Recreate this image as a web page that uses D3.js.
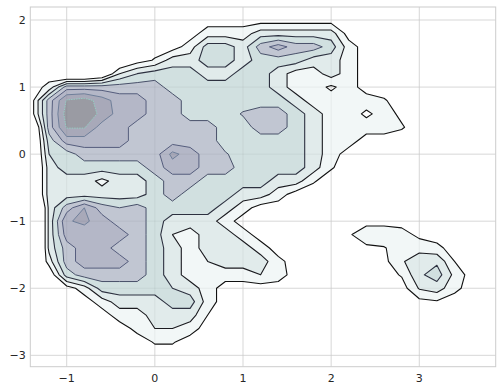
<!DOCTYPE html>
<html>
<head>
<meta charset="utf-8">
<script src="https://cdn.jsdelivr.net/npm/d3@7"></script>
<style>
  body { margin: 0; background: #fff; }
  text { font-family: "DejaVu Sans", sans-serif; }
</style>
</head>
<body>
<div id="chart"></div>
<script>
const xTicks = [-1, 0, 1, 2, 3];
const yTicks = [-3, -2, -1, 0, 1, 2];

// density grid: columns x = -1.4 .. 3.8, rows y = 2.2 .. -3.2, step 0.2
const gridX0 = -1.4;
const gridY0 = 2.2;
const gridStep = 0.2;
const density = [
  [0,0,0,0,0,0,0,0,0,0,0,0,0,0,0,0,0,0,0,0,0,0,0,0,0,0,0],
  [0,0,0,0,0,0,0,0,0,0,0,0,0,0,0,0,0,0,0,0,0,0,0,0,0,0,0],
  [0,0,0,0,0,0,0,0,0,0,1,1,1,2,2,2,2,2,0,0,0,0,0,0,0,0,0],
  [0,0,0,0,0,0,0,0,0,1,3,3,2,4,5,4,4,3,1,0,0,0,0,0,0,0,0],
  [0,0,0,0,0,-1,0,0.6,2,2,3,3,2,3,3,3,2,2,1,0,0,0,0,0,0,0,0],
  [0,0,-2,-2,-1,1.5,2.5,3,3,3,2,2,3,3,2,1,1,2,1,0,0,0,0,0,0,0,0],
  [0,0.8,4,4,4,4,4,4,3,3,3,3,3,3,2,1,1,0.3,1,0,0,0,0,0,0,0,0],
  [0,4,6.6,7,6,5,5,4,4,3,3,3,3,3,3,2,1,1,1,1,0.6,0,0,0,0,0,0],
  [0,4,7,7,6.3,5,5,4,4,3,3,3,3.6,4,4,3,2,1,1,0.3,0.9,0.3,0,0,0,0,0],
  [-2,4,6.6,6.6,5,5,4,4,4,4,4,3,3,4,4,3,2,1,1,1,1,0.6,0,0,0,0,0],
  [-2,3,5,5,5,5,4,4,4,4,4,3,3,3,3,3,2,1,1,0,0,0,0,0,0,0,0],
  [-2,2.5,3,4,4,4,4,4,5.8,5,4,3.6,3,3,3,3,2,1,0,0,0,0,0,0,0,0,0],
  [-2,2,3,3,3,3,3,4,5,5,4,4,3,3,3,3,2,0.6,0,0,0,0,0,0,0,0,0],
  [-2,2,2,2,1.2,2,2,3,4,4,3,3,3,3,2,2,0.6,0,0,0,0,0,0,0,0,0,0],
  [-2,2,2,2,2,2,2,3,4,3,3,3,2,2,1,0,0,0,0,0,0,0,0,0,0,0,0],
  [-4,1.8,4,5.5,4,3.5,4,3,3,3,3,2,1,0,0,0,0,0,0,0,0,0,0,0,0,0,0],
  [-4,1.8,5.4,5.7,5,4,4,3,2,2,2,1,0,0,0,0,0,0,0,0,0,0,0,0,0,0,0],
  [-4,1.8,5,5,5,5,4,3,1.5,1,2,2,1,0,0,0,0,0,0.3,1.4,1.4,1,0.2,0,0,0,0],
  [-4,1.8,4,5,5,4,4,3,2,1,2,2,2,1,0,0,0,0,0,0.2,0.4,1.2,1.2,0.8,0,0,0],
  [-2,1,4,5,5,5,4,3,2,1,1.5,2,2,2,0.8,0,0,0,0,0,0.2,1.4,2,2.3,0.5,0,0],
  [-2,-0.5,3,4,4,4,4,3,2,1,1,1,1,1.5,1,0,0,0,0,0,0,0.6,2.3,3,1.2,0,0],
  [-2,-1,0,1,3,3,3,3,2.5,2,1,0,0,0,0,0,0,0,0,0,0,0,1.6,2,0.8,0,0],
  [-2,-1,0,0,1,2,2,2,3,3,1,0,0,0,0,0,0,0,0,0,0,0,0.2,0.4,0,0,0],
  [-2,-1,-1,0,0,1,1,2,2,2,0.5,0,0,0,0,0,0,0,0,0,0,0,0,0,0,0,0],
  [-2,-1,-1,-1,0,0,0.8,1.5,1.5,1,0,0,0,0,0,0,0,0,0,0,0,0,0,0,0,0,0],
  [0,0,0,0,0,0,0,0.6,0.6,0,0,0,0,0,0,0,0,0,0,0,0,0,0,0,0,0,0],
  [0,0,0,0,0,0,0,0,0,0,0,0,0,0,0,0,0,0,0,0,0,0,0,0,0,0,0],
  [0,0,0,0,0,0,0,0,0,0,0,0,0,0,0,0,0,0,0,0,0,0,0,0,0,0,0]
];

const levels = [0.5, 1.5, 2.5, 3.5, 4.5, 5.5, 6.5];
const fillColors = ['#f2f7f7', '#e1ebeb', '#d1e0e0', '#c1c6d2', '#b4b7c7', '#a8a9b9', '#9a9ba3'];
const lineColors = ['#111111', '#1a1a1f', '#2d3140', '#485069', '#555d7d', '#6f7f9a', '#95cdc4'];

const width = 502;
const height = 392;
const margin = {left: 30.3, right: 6.3, top: 7, bottom: 25.3};

const x = d3.scaleLinear()
  .domain([-1.413, 3.867])
  .range([margin.left, width - margin.right]);
const y = d3.scaleLinear()
  .domain([-3.170, 2.194])
  .range([height - margin.bottom, margin.top]);

const svg = d3.select('#chart').append('svg')
  .attr('width', width)
  .attr('height', height);

svg.append('defs').append('clipPath')
  .attr('id', 'plot')
  .append('rect')
  .attr('x', margin.left)
  .attr('y', margin.top)
  .attr('width', width - margin.left - margin.right)
  .attr('height', height - margin.top - margin.bottom);

function drawGrid(g, color, opacity) {
  g.selectAll('.gx')
    .data(xTicks)
    .join('line')
    .attr('class', 'gx')
    .attr('x1', d => x(d)).attr('x2', d => x(d))
    .attr('y1', margin.top).attr('y2', height - margin.bottom)
    .attr('stroke', color)
    .attr('stroke-opacity', opacity);
  g.selectAll('.gy')
    .data(yTicks)
    .join('line')
    .attr('class', 'gy')
    .attr('y1', d => y(d)).attr('y2', d => y(d))
    .attr('x1', margin.left).attr('x2', width - margin.right)
    .attr('stroke', color)
    .attr('stroke-opacity', opacity);
}

drawGrid(svg.append('g'), '#e3e3e3', 1);

// contours: grid value i sits at coordinate i + 0.5
const nx = density[0].length;
const ny = density.length;
const contours = d3.contours()
  .size([nx, ny])
  .thresholds(levels)(density.flat());

const toScreen = d3.geoTransform({
  point(gx, gy) {
    this.stream.point(
      x(gridX0 + (gx - 0.5) * gridStep),
      y(gridY0 - (gy - 0.5) * gridStep)
    );
  }
});
const path = d3.geoPath(toScreen);

const plot = svg.append('g').attr('clip-path', 'url(#plot)');

plot.selectAll('.band')
  .data(contours)
  .join('path')
  .attr('class', 'band')
  .attr('d', path)
  .attr('fill', (d, i) => fillColors[i])
  .attr('stroke', 'none');

// the grid shows faintly through the filled bands
drawGrid(plot.append('g'), '#000', 0.05);

plot.selectAll('.iso')
  .data(contours)
  .join('path')
  .attr('class', 'iso')
  .attr('d', path)
  .attr('fill', 'none')
  .attr('stroke', (d, i) => lineColors[i])
  .attr('stroke-width', (d, i) => i < 3 ? 1.1 : 1)
  .attr('stroke-dasharray', (d, i) => i === levels.length - 1 ? '1.5,1' : null)
  .attr('stroke-linejoin', 'round');

// frame
svg.append('rect')
  .attr('x', margin.left)
  .attr('y', margin.top)
  .attr('width', width - margin.left - margin.right)
  .attr('height', height - margin.top - margin.bottom)
  .attr('fill', 'none')
  .attr('stroke', '#cccccc')
  .attr('stroke-width', 1);

const fmt = d => d < 0 ? '\u2212' + Math.abs(d) : String(d);

svg.append('g')
  .selectAll('text')
  .data(xTicks)
  .join('text')
  .attr('x', d => x(d))
  .attr('y', height - margin.bottom + 15)
  .attr('text-anchor', 'middle')
  .attr('font-size', 11)
  .attr('fill', '#262626')
  .text(fmt);

svg.append('g')
  .selectAll('text')
  .data(yTicks)
  .join('text')
  .attr('x', margin.left - 4.5)
  .attr('y', d => y(d) + 4)
  .attr('text-anchor', 'end')
  .attr('font-size', 11)
  .attr('fill', '#262626')
  .text(fmt);
</script>
</body>
</html>
